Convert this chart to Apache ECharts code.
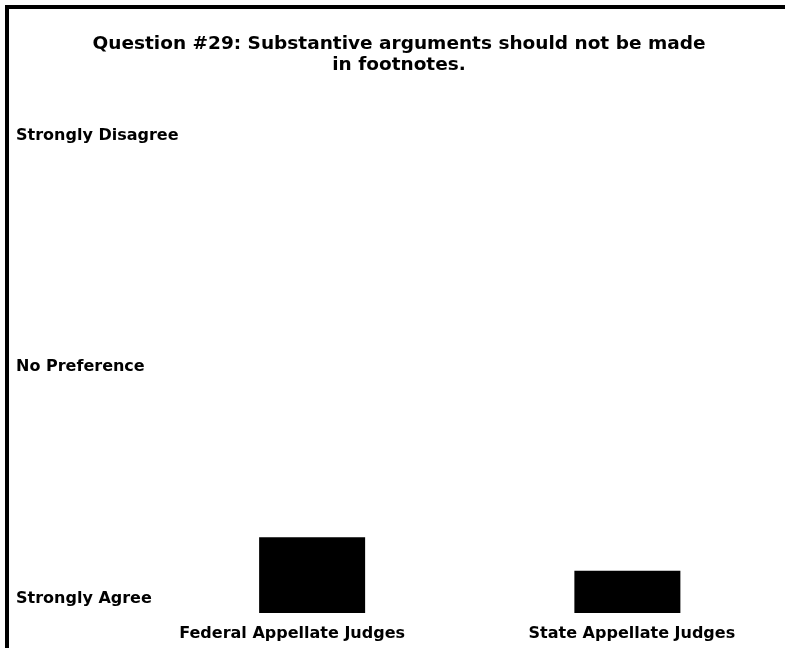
<!DOCTYPE html>
<html>
<head>
<meta charset="utf-8">
<script src="https://cdn.jsdelivr.net/npm/echarts@6/dist/echarts.min.js"></script>
<style>html,body{margin:0;padding:0;background:#fff}#c{width:785px;height:648px}</style>
</head>
<body>
<div id="c"></div>
<script>
var titleText = 'Question #29: Substantive arguments should not be made\nin footnotes.';
var categories = ['Federal Appellate Judges', 'State Appellate Judges'];
var meanValues = [1.53, 1.24];
var tickValues = [1, 3, 5];
var tickLabels = { 1: 'Strongly Agree', 3: 'No Preference', 5: 'Strongly Disagree' };

var font = 'DejaVu Sans';
var chart = echarts.init(document.getElementById('c'));
chart.setOption({
  animation: false,
  backgroundColor: '#fff',
  title: {
    text: titleText,
    left: 399,
    top: 33,
    padding: 0,
    textAlign: 'center',
    textStyle: { fontFamily: font, fontWeight: 'bold', fontSize: 18.5, color: '#000', lineHeight: 21.5 }
  },
  graphic: [
    { type: 'rect', shape: { x: 5, y: 5, width: 780, height: 4 }, style: { fill: '#000' } },
    { type: 'rect', shape: { x: 5, y: 5, width: 4, height: 643 }, style: { fill: '#000' } }
  ],
  grid: { left: 154.5, right: -3.5, top: 135.5, bottom: 35, containLabel: false },
  xAxis: {
    type: 'category',
    data: categories,
    axisLine: { show: false },
    axisTick: { show: false },
    axisLabel: {
      interval: 0,
      hideOverlap: false,
      fontFamily: font, fontWeight: 'bold', fontSize: 16, color: '#000', margin: 13,
      formatter: function (v, i) { return i === 0 ? '{a|' + v + '}' : '{b|' + v + '}'; },
      rich: {
        a: { fontFamily: font, fontWeight: 'bold', fontSize: 16, color: '#000', padding: [0, 40, 0, 0] },
        b: { fontFamily: font, fontWeight: 'bold', fontSize: 16, color: '#000', padding: [0, 0, 0, 9] }
      }
    }
  },
  yAxis: {
    type: 'value',
    min: 0.875,
    max: 5,
    splitLine: { show: false },
    axisLine: { show: false },
    axisTick: { show: false },
    axisLabel: {
      customValues: tickValues,
      formatter: function (v) { return tickLabels[v] || ''; },
      align: 'left',
      margin: 138.5,
      fontFamily: font, fontWeight: 'bold', fontSize: 16, color: '#000'
    }
  },
  series: [{
    type: 'bar',
    data: meanValues,
    barWidth: 106,
    itemStyle: { color: '#000' }
  }]
});
</script>
</body>
</html>
